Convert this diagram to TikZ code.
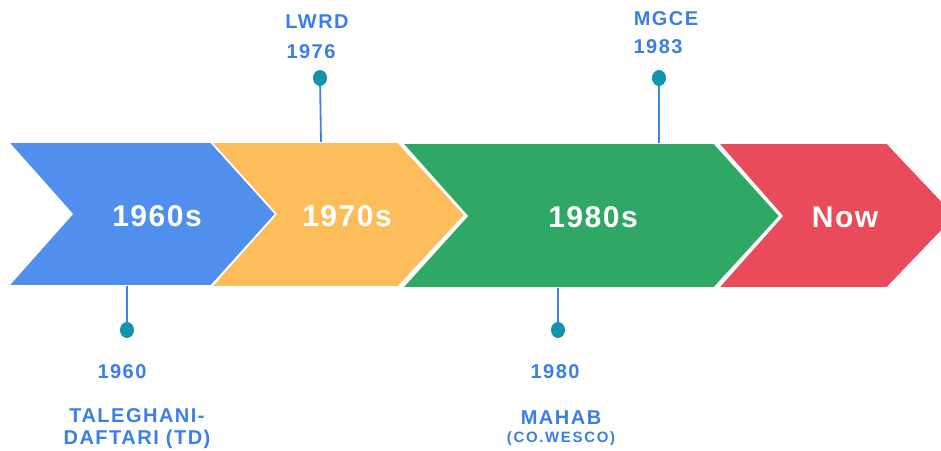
\documentclass[tikz,border=0pt]{standalone}
\usepackage{fontspec}
\setmainfont{Liberation Sans}
\newfontfamily\bigfont[LetterSpace=5]{Liberation Sans}
\newfontfamily\labfont[LetterSpace=7.5]{Liberation Sans}
\newfontfamily\smallfont[LetterSpace=11]{Liberation Sans}
\usetikzlibrary{shapes.geometric}
\definecolor{cblue}{HTML}{518FEF}
\definecolor{corange}{HTML}{FDBD5A}
\definecolor{cgreen}{HTML}{2FA866}
\definecolor{cred}{HTML}{E94B5B}
\definecolor{ctext}{HTML}{3B7EE8}
\definecolor{cdot}{HTML}{1494AC}
\definecolor{cline}{HTML}{3D82EB}
\tikzset{
  chev/.style={draw=white, line width=1.6pt, line join=miter},
  era/.style={text=white, font=\bigfont\bfseries\fontsize{30}{32}\selectfont, inner sep=0pt},
  lab/.style={text=ctext, font=\labfont\bfseries\fontsize{20}{22}\selectfont, inner sep=0pt},
  sublab/.style={text=ctext, font=\smallfont\bfseries\fontsize{15}{17}\selectfont, inner sep=0pt},
  pin/.style={ellipse, fill=cdot, minimum width=14pt, minimum height=16pt, inner sep=0pt},
  stem/.style={draw=cline, line width=1.8pt}
}
\begin{document}
\begin{tikzpicture}[x=1pt,y=-1pt]
\useasboundingbox (0,0) rectangle (941,450);
\clip (0,0) rectangle (941,450);
% chevrons
\fill[cblue] (8,142) -- (211,142) -- (276,214) -- (211,286) -- (8,286) -- (72,214) -- cycle;
\draw[chev] (8,142) -- (211,142) -- (276,214) -- (211,286) -- (8,286) -- (72,214) -- cycle;
\fill[corange] (211,142) -- (398,142) -- (465,215) -- (398,287) -- (211,287) -- (276,214) -- cycle;
\draw[chev] (211,142) -- (398,142) -- (465,215) -- (398,287) -- (211,287) -- (276,214) -- cycle;
\fill[cgreen] (402,143) -- (714,143) -- (780,216) -- (714,288) -- (402,288) -- (467,216) -- cycle;
\draw[chev] (402,143) -- (714,143) -- (780,216) -- (714,288) -- (402,288) -- (467,216) -- cycle;
\fill[cred] (718,143) -- (887,143) -- (956,216) -- (887,288) -- (718,288) -- (782,216) -- cycle;
\draw[chev] (718,143) -- (887,143) -- (956,216) -- (887,288) -- (718,288) -- (782,216) -- cycle;
% era labels
\node[era] (e60) at (157,216) {1960s};
\node[era] (e70) at (347,216) {1970s};
\node[era] (e80) at (593,217) {1980s};
\node[era] (enow) at (845,217) {Now};
% anchor points on the band
\coordinate (b60) at (127,286);
\coordinate (b76) at (321,142);
\coordinate (b80) at (558,288);
\coordinate (b83) at (659,143);
% pins
\node[pin] (p60) at (127,330) {};
\node[pin] (p76) at (320,78) {};
\node[pin] (p80) at (558,330) {};
\node[pin] (p83) at (659,78) {};
\draw[stem] (b60) -- (p60);
\draw[stem] (b76) -- (p76);
\draw[stem] (b80) -- (p80);
\draw[stem] (b83) -- (p83);
% text labels
\node[lab] (t76a) at (317,22) {LWRD};
\node[lab] (t76b) at (311,52) {1976};
\node[lab] (t83a) at (666,19) {MGCE};
\node[lab] (t83b) at (658,47) {1983};
\node[lab] (t60a) at (122,372) {1960};
\node[lab] (t60b) at (137,416) {TALEGHANI-};
\node[lab] (t60c) at (137,439) {DAFTARI (TD)};
\node[lab] (t80a) at (555,372) {1980};
\node[lab] (t80b) at (561,418) {MAHAB};
\node[sublab] (t80c) at (561,439) {(CO.WESCO)};
\end{tikzpicture}
\end{document}
